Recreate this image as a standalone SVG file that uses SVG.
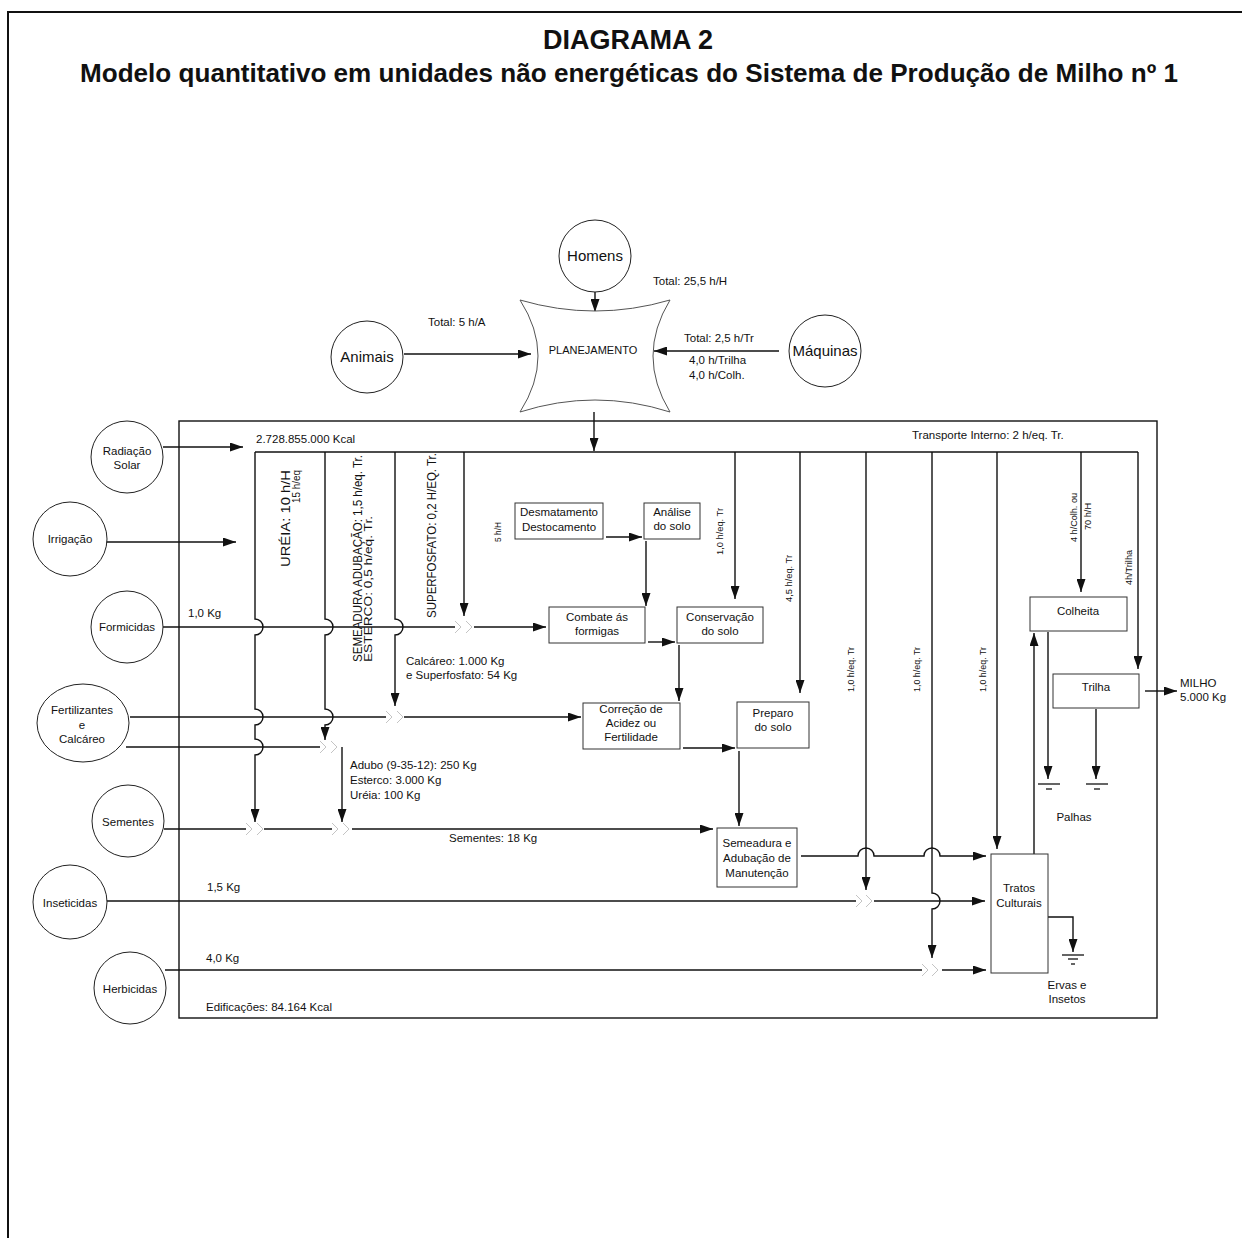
<svg xmlns="http://www.w3.org/2000/svg" width="1242" height="1238" viewBox="0 0 1242 1238">
<style>
text{font-family:"Liberation Sans",Arial,sans-serif;fill:#111;font-size:11.5px}
.c{text-anchor:middle}
.big{font-size:15px}
.sm{font-size:8.5px}
.node{fill:#fff;stroke:#222;stroke-width:1}
.box{fill:#fff;stroke:#333;stroke-width:1}
.ln{fill:none;stroke:#111;stroke-width:1.4}
.ar{fill:none;stroke:#111;stroke-width:1.4;marker-end:url(#ah)}
.mg{fill:none;stroke:#c4c4c4;stroke-width:1}
.gnd{stroke:#111;stroke-width:1.3}
</style>
<defs>
<marker id="ah" viewBox="0 0 13 9" refX="13" refY="4.5" markerWidth="13" markerHeight="9" markerUnits="userSpaceOnUse" orient="auto"><path d="M0,0 L13,4.5 L0,9 z" fill="#111"/></marker>
</defs>
<rect width="1242" height="1238" fill="#fff"/>
<path d="M8,1238 V12 H1242" fill="none" stroke="#111" stroke-width="2"/>
<text x="628" y="49" class="c" style="font-size:27px;font-weight:bold">DIAGRAMA 2</text>
<text x="80" y="82" style="font-size:26px;font-weight:bold" textLength="1098" lengthAdjust="spacingAndGlyphs">Modelo quantitativo em unidades não energéticas do Sistema de Produção de Milho nº 1</text>

<rect x="179" y="421" width="978" height="597" fill="none" stroke="#111" stroke-width="1.4"/>

<g id="connectors">
<path class="ar" d="M595,292 V312"/>
<path class="ar" d="M404,354 H531"/>
<path class="ar" d="M779,351 H654"/>
<path class="ar" d="M594,412 V451"/>
<path class="ln" d="M255,452 H1138"/>
<path class="ar" d="M255,452 V619 A8,8 0 0 1 255,635 V709 A8,8 0 0 1 255,725 V739 A8,8 0 0 1 255,755 V822"/>
<path class="ar" d="M325,452 V619 A8,8 0 0 1 325,635 V709 A8,8 0 0 1 325,725 V740"/>
<path class="ar" d="M342,747 V822"/>
<path class="ar" d="M395,452 V619 A8,8 0 0 1 395,635 V706"/>
<path class="ar" d="M464,452 V616"/>
<path class="ar" d="M735,452 V599"/>
<path class="ar" d="M800,452 V693"/>
<path class="ar" d="M866,452 V890"/>
<path class="ar" d="M932,452 V893 A8,8 0 0 1 932,909 V958"/>
<path class="ar" d="M997,452 V849"/>
<path class="ar" d="M1081,452 V592"/>
<path class="ar" d="M1138,452 V669"/>
<path class="ar" d="M163,447 H243"/>
<path class="ar" d="M106,542 H236"/>
<path class="ln" d="M163,627 H455"/>
<path class="ar" d="M474,627 H546"/>
<path class="ln" d="M130,717 H386"/>
<path class="ar" d="M404,717 H581"/>
<path class="ln" d="M126,747 H320"/>
<path class="ln" d="M164,829 H246"/>
<path class="ln" d="M264,829 H332"/>
<path class="ar" d="M352,829 H713"/>
<path class="ln" d="M106,901 H856"/>
<path class="ar" d="M874,901 H985"/>
<path class="ln" d="M165,970 H922"/>
<path class="ar" d="M942,970 H986"/>
<path class="ar" d="M801,856 H858 A8,8 0 0 1 874,856 H924 A8,8 0 0 1 940,856 H986"/>
<path class="ar" d="M606,537 H642"/>
<path class="ar" d="M646,541 V606"/>
<path class="ar" d="M648,642 H675"/>
<path class="ar" d="M679,645 V701"/>
<path class="ar" d="M683,748 H735"/>
<path class="ar" d="M739,751 V826"/>
<path class="ar" d="M1034,854 V633"/>
<path class="ar" d="M1048,632 V779"/>
<path class="ar" d="M1096,709 V779"/>
<path class="ar" d="M1145,691 H1177"/>
<path class="ar" d="M1048,917 H1073 V952"/>
<path class="mg" d="M455,621 L461,627 L455,633 M466,621 L472,627 L466,633"/>
<path class="mg" d="M386,711 L392,717 L386,723 M397,711 L403,717 L397,723"/>
<path class="mg" d="M320,741 L326,747 L320,753 M331,741 L337,747 L331,753"/>
<path class="mg" d="M246,823 L252,829 L246,835 M257,823 L263,829 L257,835"/>
<path class="mg" d="M332,823 L338,829 L332,835 M343,823 L349,829 L343,835"/>
<path class="mg" d="M856,895 L862,901 L856,907 M866,895 L872,901 L866,907"/>
<path class="mg" d="M922,964 L928,970 L922,976 M932,964 L938,970 L932,976"/>
<g class="gnd">
<line x1="1038" y1="784" x2="1060" y2="784"/><line x1="1046" y1="789" x2="1052" y2="789"/>
<line x1="1086" y1="784" x2="1108" y2="784"/><line x1="1094" y1="789" x2="1100" y2="789"/>
<line x1="1062" y1="955" x2="1084" y2="955"/><line x1="1068" y1="959" x2="1078" y2="959"/><line x1="1071" y1="964" x2="1075" y2="964"/>
</g>
</g>

<g id="homens"><circle class="node" cx="595" cy="256" r="36"/><text x="595" y="261" class="c big">Homens</text></g>
<g id="animais"><circle class="node" cx="367" cy="357" r="36"/><text x="367" y="362" class="c big">Animais</text></g>
<g id="maquinas"><circle class="node" cx="825" cy="351" r="36"/><text x="825" y="356" class="c big">Máquinas</text></g>
<g id="planejamento"><path d="M520,300 Q595,322 670,300 Q636,356 670,412 Q595,388 520,412 Q556,356 520,300 Z" fill="#fff" stroke="#555" stroke-width="1"/><text x="593" y="354" class="c" style="font-size:11px">PLANEJAMENTO</text></g>

<g id="radiacao"><circle class="node" cx="127" cy="457" r="36"/><text x="127" y="455" class="c">Radiação</text><text x="127" y="469" class="c">Solar</text></g>
<g id="irrigacao"><circle class="node" cx="70" cy="539" r="37"/><text x="70" y="543" class="c">Irrigação</text></g>
<g id="formicidas"><circle class="node" cx="127" cy="627" r="36"/><text x="127" y="631" class="c">Formicidas</text></g>
<g id="fertilizantes"><ellipse class="node" cx="83" cy="723" rx="46" ry="39"/><text x="82" y="714" class="c">Fertilizantes</text><text x="82" y="729" class="c">e</text><text x="82" y="743" class="c">Calcáreo</text></g>
<g id="sementes"><circle class="node" cx="128" cy="821" r="36"/><text x="128" y="826" class="c">Sementes</text></g>
<g id="inseticidas"><circle class="node" cx="70" cy="902" r="37"/><text x="70" y="907" class="c">Inseticidas</text></g>
<g id="herbicidas"><circle class="node" cx="130" cy="988" r="36"/><text x="130" y="993" class="c">Herbicidas</text></g>

<g id="desmatamento"><rect class="box" x="515" y="503" width="88" height="36"/><text x="559" y="516" class="c">Desmatamento</text><text x="559" y="531" class="c">Destocamento</text></g>
<g id="analise"><rect class="box" x="644" y="503" width="56" height="36"/><text x="672" y="516" class="c">Análise</text><text x="672" y="530" class="c">do solo</text></g>
<g id="combate"><rect class="box" x="549" y="607" width="96" height="36"/><text x="597" y="621" class="c">Combate ás</text><text x="597" y="635" class="c">formigas</text></g>
<g id="conservacao"><rect class="box" x="677" y="607" width="86" height="36"/><text x="720" y="621" class="c">Conservação</text><text x="720" y="635" class="c">do solo</text></g>
<g id="correcao"><rect class="box" x="583" y="703" width="97" height="46"/><text x="631" y="713" class="c">Correção de</text><text x="631" y="727" class="c">Acidez ou</text><text x="631" y="741" class="c">Fertilidade</text></g>
<g id="preparo"><rect class="box" x="737" y="702" width="72" height="46"/><text x="773" y="717" class="c">Preparo</text><text x="773" y="731" class="c">do solo</text></g>
<g id="semeadura"><rect class="box" x="717" y="828" width="80" height="59"/><text x="757" y="847" class="c">Semeadura e</text><text x="757" y="862" class="c">Adubação de</text><text x="757" y="877" class="c">Manutenção</text></g>
<g id="tratos"><rect class="box" x="991" y="854" width="57" height="119"/><text x="1019" y="892" class="c">Tratos</text><text x="1019" y="907" class="c">Culturais</text></g>
<g id="colheita"><rect class="box" x="1030" y="597" width="97" height="34"/><text x="1078" y="615" class="c">Colheita</text></g>
<g id="trilha"><rect class="box" x="1053" y="674" width="86" height="34"/><text x="1096" y="691" class="c">Trilha</text></g>

<g id="labels">
<text x="428" y="326">Total: 5 h/A</text>
<text x="653" y="285">Total: 25,5 h/H</text>
<text x="684" y="342">Total: 2,5 h/Tr</text>
<text x="689" y="364">4,0 h/Trilha</text>
<text x="689" y="379">4,0 h/Colh.</text>
<text x="256" y="443">2.728.855.000 Kcal</text>
<text x="912" y="439">Transporte Interno: 2 h/eq. Tr.</text>
<text x="188" y="617">1,0  Kg</text>
<text x="406" y="665">Calcáreo: 1.000 Kg</text>
<text x="406" y="679">e Superfosfato: 54 Kg</text>
<text x="350" y="769">Adubo (9-35-12): 250 Kg</text>
<text x="350" y="784">Esterco: 3.000 Kg</text>
<text x="350" y="799">Uréia: 100 Kg</text>
<text x="449" y="842">Sementes: 18 Kg</text>
<text x="207" y="891">1,5 Kg</text>
<text x="206" y="962">4,0 Kg</text>
<text x="206" y="1011">Edificações: 84.164 Kcal</text>
<text x="1074" y="821" class="c">Palhas</text>
<text x="1180" y="687">MILHO</text>
<text x="1180" y="701">5.000 Kg</text>
<text x="1067" y="989" class="c">Ervas e</text>
<text x="1067" y="1003" class="c">Insetos</text>
<text transform="translate(290,567) rotate(-90)" style="font-size:12px" textLength="97" lengthAdjust="spacingAndGlyphs">URÉIA: 10 h/H</text>
<text transform="translate(300,503) rotate(-90)" style="font-size:11px" textLength="33" lengthAdjust="spacingAndGlyphs">15 h/eq</text>
<text transform="translate(362,662) rotate(-90)" style="font-size:12px" textLength="207" lengthAdjust="spacingAndGlyphs">SEMEADURA ADUBAÇÃO: 1,5 h/eq. Tr.</text>
<text transform="translate(372,662) rotate(-90)" style="font-size:11px" textLength="146" lengthAdjust="spacingAndGlyphs">ESTERCO: 0,5 h/eq. Tr.</text>
<text transform="translate(436,618) rotate(-90)" style="font-size:12px" textLength="165" lengthAdjust="spacingAndGlyphs">SUPERFOSFATO: 0,2 H/EQ. Tr.</text>
<text transform="translate(501,542) rotate(-90)" class="sm" textLength="20" lengthAdjust="spacingAndGlyphs">5 h/H</text>
<text transform="translate(723,555) rotate(-90)" class="sm" textLength="47" lengthAdjust="spacingAndGlyphs">1,0 h/eq. Tr</text>
<text transform="translate(792,602) rotate(-90)" class="sm" textLength="47" lengthAdjust="spacingAndGlyphs">4,5 h/eq. Tr</text>
<text transform="translate(854,692) rotate(-90)" class="sm" textLength="45" lengthAdjust="spacingAndGlyphs">1,0 h/eq. Tr</text>
<text transform="translate(920,692) rotate(-90)" class="sm" textLength="45" lengthAdjust="spacingAndGlyphs">1,0 h/eq. Tr</text>
<text transform="translate(986,692) rotate(-90)" class="sm" textLength="45" lengthAdjust="spacingAndGlyphs">1,0 h/eq. Tr</text>
<text transform="translate(1077,542) rotate(-90)" class="sm" textLength="49" lengthAdjust="spacingAndGlyphs">4 h/Colh. ou</text>
<text transform="translate(1091,530) rotate(-90)" class="sm" textLength="27" lengthAdjust="spacingAndGlyphs">70 h/H</text>
<text transform="translate(1132,585) rotate(-90)" class="sm" textLength="35" lengthAdjust="spacingAndGlyphs">4h/Trilha</text>
</g>
</svg>
